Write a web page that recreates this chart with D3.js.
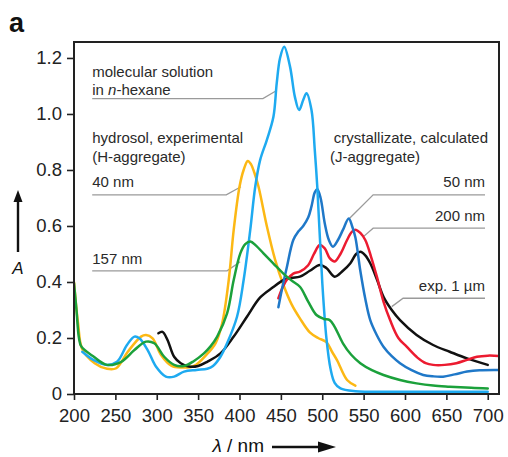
<!DOCTYPE html>
<html>
<head>
<meta charset="utf-8">
<script src="https://cdn.jsdelivr.net/npm/d3@7"></script>
<style>
  html, body { margin: 0; padding: 0; background: #fff; }
  svg { display: block; font-family: "Liberation Sans", Arial, Helvetica, sans-serif; }
</style>
</head>
<body>
<svg id="chart" width="508" height="457"></svg>
<script>
// Absorption spectra: wavelength (nm) vs absorbance A
const xTicks = [200, 250, 300, 350, 400, 450, 500, 550, 600, 650, 700];
const yTicks = [0, 0.2, 0.4, 0.6, 0.8, 1.0, 1.2];

// molecular solution in n-hexane
const hexane = [[210,0.151],[224,0.121],[240,0.104],[252,0.115],[264,0.175],[273,0.205],[279,0.199],[289,0.157],
  [299,0.098],[311,0.062],[321,0.062],[333,0.08],[348,0.086],[361,0.09],[368,0.10],[377,0.133],[385,0.181],
  [397,0.276],[405,0.407],[413,0.586],[419,0.74],[425,0.836],[433,0.907],[441,0.99],[445,1.11],[449,1.20],
  [454,1.24],[461,1.17],[467,1.06],[472,1.014],[477,1.05],[481,1.074],[487,1.014],[491,0.87],[494,0.74],
  [500,0.40],[505,0.20],[510,0.09],[515,0.04],[522,0.02],[540,0.01],[600,0.008],[700,0.008]];

// hydrosol, 40 nm (H-aggregate)
const hydrosol40 = [[200,0.40],[205,0.25],[210,0.16],[225,0.11],[240,0.09],[251,0.092],[265,0.151],[281,0.205],
  [287,0.211],[295,0.199],[305,0.14],[318,0.10],[330,0.095],[345,0.10],[360,0.14],[371,0.181],[379,0.252],
  [387,0.407],[393,0.586],[400,0.74],[405,0.80],[410,0.832],[414,0.82],[418,0.79],[423,0.74],[433,0.60],
  [443,0.48],[453,0.39],[463,0.32],[473,0.27],[485,0.22],[495,0.20],[505,0.185],[512,0.15],[518,0.12],
  [530,0.05],[540,0.03]];

// hydrosol, 157 nm
const hydrosol157 = [[200,0.396],[203,0.30],[206,0.20],[209,0.169],[224,0.133],[240,0.104],[257,0.115],[273,0.157],
  [287,0.187],[297,0.181],[309,0.133],[321,0.104],[333,0.10],[345,0.118],[357,0.145],[365,0.17],[373,0.205],
  [385,0.288],[393,0.407],[401,0.502],[407,0.535],[413,0.545],[420,0.53],[429,0.502],[441,0.466],[453,0.43],
  [463,0.405],[473,0.383],[483,0.33],[493,0.282],[502,0.268],[509,0.264],[515,0.24],[525,0.181],[535,0.14],
  [546,0.11],[560,0.085],[574,0.068],[594,0.05],[614,0.038],[634,0.03],[654,0.026],[680,0.022],[700,0.02]];

// crystallizate, experimental 1 µm
const crystal1um = [[302,0.217],[307,0.222],[313,0.193],[321,0.133],[329,0.11],[339,0.098],[350,0.10],[361,0.115],
  [377,0.145],[393,0.205],[409,0.276],[425,0.345],[440,0.38],[453,0.407],[463,0.415],[473,0.419],[485,0.44],
  [497,0.461],[505,0.45],[515,0.419],[525,0.44],[534,0.467],[541,0.50],[546,0.508],[552,0.495],[558,0.467],
  [566,0.41],[574,0.347],[584,0.30],[594,0.264],[614,0.211],[634,0.175],[654,0.151],[675,0.127],[700,0.104]];

// crystallizate, calculated 200 nm
const crystal200 = [[447,0.342],[452,0.38],[457,0.407],[465,0.43],[473,0.437],[483,0.46],[490,0.50],[497,0.532],
  [503,0.52],[509,0.485],[515,0.473],[522,0.50],[530,0.55],[536,0.58],[541,0.586],[546,0.575],[552,0.55],
  [559,0.49],[566,0.419],[574,0.33],[582,0.264],[592,0.20],[602,0.169],[615,0.13],[625,0.11],[634,0.104],
  [648,0.104],[662,0.11],[675,0.122],[687,0.133],[700,0.137],[713,0.136]];

// crystallizate, calculated 50 nm
const crystal50 = [[447,0.31],[451,0.37],[457,0.45],[465,0.55],[471,0.58],[477,0.60],[483,0.63],[487,0.67],
  [491,0.72],[494,0.731],[498,0.70],[503,0.61],[508,0.55],[513,0.526],[519,0.55],[525,0.586],[532,0.627],
  [536,0.60],[540,0.56],[546,0.44],[552,0.34],[558,0.264],[566,0.21],[574,0.169],[584,0.135],[594,0.11],
  [608,0.085],[622,0.068],[634,0.063],[646,0.062],[660,0.07],[675,0.08],[690,0.085],[713,0.086]];

const svg = d3.select("#chart");
const plotLeft = 74, plotRight = 499, plotTop = 42, plotBottom = 394;

const x = d3.scaleLinear().domain([200, 713.6]).range([plotLeft, plotRight]);
const y = d3.scaleLinear().domain([0, 1.257]).range([plotBottom, plotTop]);

// "a" panel letter
svg.append("text").attr("x", 9).attr("y", 32)
  .attr("font-size", 27).attr("font-weight", "bold").attr("fill", "#111").text("a");

svg.append("defs").append("clipPath").attr("id", "plotClip")
  .append("rect").attr("x", plotLeft).attr("y", plotTop)
  .attr("width", plotRight - plotLeft).attr("height", plotBottom - plotTop);

// Axes
const yAxis = d3.axisLeft(y).tickValues(yTicks)
  .tickFormat(d => d === 0 ? "0" : d.toFixed(1)).tickSize(7).tickPadding(5).tickSizeOuter(0);
const xAxis = d3.axisBottom(x).tickValues(xTicks)
  .tickFormat(d3.format("d")).tickSize(6).tickPadding(9).tickSizeOuter(0);

const gy = svg.append("g").attr("transform", `translate(${plotLeft},0)`).call(yAxis);
const gx = svg.append("g").attr("transform", `translate(0,${plotBottom})`).call(xAxis);
[gy, gx].forEach(g => {
  g.select(".domain").remove();
  g.selectAll(".tick line").attr("stroke", "#222").attr("stroke-width", 1.6);
  g.selectAll(".tick text").attr("font-size", 18.5).attr("fill", "#222")
    .attr("font-family", "'Liberation Sans', Arial, sans-serif");
});

// Leader lines and labels
const leaderColor = "#9a9a9a";
const leaders = [
  { x0: 222, x1: 428.3, a: 1.0546, ax: 444.4, aa: 1.083 },
  { x0: 222, x1: 384, a: 0.711, ax: 401.7, aa: 0.74 },
  { x0: 222, x1: 385, a: 0.440, ax: 400.8, aa: 0.472 },
  { x0: 696.7, x1: 561.5, a: 0.711, ax: 532.8, aa: 0.627 },
  { x0: 696.7, x1: 561.5, a: 0.592, ax: 549.8, aa: 0.562 },
  { x0: 696.7, x1: 597.7, a: 0.342, ax: 584, aa: 0.312 }
];
svg.append("g").selectAll("path").data(leaders).join("path")
  .attr("d", d => `M${x(d.x0)},${y(d.a)}H${x(d.x1)}L${x(d.ax)},${y(d.aa)}`)
  .attr("fill", "none").attr("stroke", leaderColor).attr("stroke-width", 1.3);

const labelG = svg.append("g").attr("font-size", 15).attr("fill", "#2a2a2a");
const lx = x(222), rx = x(696.7);
labelG.append("text").attr("x", lx).attr("y", 77).text("molecular solution");
const hx = labelG.append("text").attr("x", lx).attr("y", 95);
hx.append("tspan").text("in ");
hx.append("tspan").attr("font-style", "italic").text("n");
hx.append("tspan").text("-hexane");
labelG.append("text").attr("x", lx).attr("y", 143).text("hydrosol, experimental");
labelG.append("text").attr("x", lx).attr("y", 162).text("(H-aggregate)");
labelG.append("text").attr("x", lx).attr("y", 187).text("40 nm");
labelG.append("text").attr("x", lx).attr("y", 264).text("157 nm");
labelG.append("text").attr("x", rx + 3).attr("y", 143).attr("text-anchor", "end").text("crystallizate, calculated");
labelG.append("text").attr("x", 330).attr("y", 162).text("(J-aggregate)");
labelG.append("text").attr("x", rx).attr("y", 187).attr("text-anchor", "end").text("50 nm");
labelG.append("text").attr("x", rx).attr("y", 221).attr("text-anchor", "end").text("200 nm");
labelG.append("text").attr("x", rx).attr("y", 291).attr("text-anchor", "end").text("exp. 1 \u00B5m");

// Spectra
const line = d3.line().x(d => x(d[0])).y(d => y(d[1])).curve(d3.curveCatmullRom.alpha(0.5));
const series = [
  { data: hydrosol40, color: "#fcb814" },
  { data: crystal1um, color: "#111111" },
  { data: crystal200, color: "#ec1b30" },
  { data: crystal50, color: "#1f78c8" },
  { data: hexane, color: "#1eaaf0" },
  { data: hydrosol157, color: "#1ba13b" }
];
svg.append("g").attr("clip-path", "url(#plotClip)")
  .selectAll("path").data(series).join("path")
  .attr("d", d => line(d.data))
  .attr("fill", "none").attr("stroke", d => d.color)
  .attr("stroke-width", 2.5).attr("stroke-linejoin", "round").attr("stroke-linecap", "round");

// Plot frame
svg.append("rect").attr("x", plotLeft).attr("y", plotTop)
  .attr("width", plotRight - plotLeft).attr("height", plotBottom - plotTop)
  .attr("fill", "none").attr("stroke", "#222").attr("stroke-width", 2);

// Y axis title with arrow
svg.append("line").attr("x1", 18).attr("x2", 18).attr("y1", 252).attr("y2", 199)
  .attr("stroke", "#111").attr("stroke-width", 2.4);
svg.append("path").attr("d", "M18,190L13.5,202L22.5,202Z").attr("fill", "#111");
svg.append("text").attr("x", 18).attr("y", 274).attr("text-anchor", "middle")
  .attr("font-size", 17).attr("font-style", "italic").attr("fill", "#111").text("A");

// X axis title with arrow
const xt = svg.append("text").attr("x", 264).attr("y", 452).attr("text-anchor", "end")
  .attr("font-size", 19).attr("fill", "#111");
xt.append("tspan").attr("font-style", "italic").text("\u03BB");
xt.append("tspan").text(" / nm");
svg.append("line").attr("x1", 272).attr("x2", 322).attr("y1", 447).attr("y2", 447)
  .attr("stroke", "#111").attr("stroke-width", 2.6);
svg.append("path").attr("d", "M336,447L318,441.5L318,452.5Z").attr("fill", "#111");
</script>
</body>
</html>
